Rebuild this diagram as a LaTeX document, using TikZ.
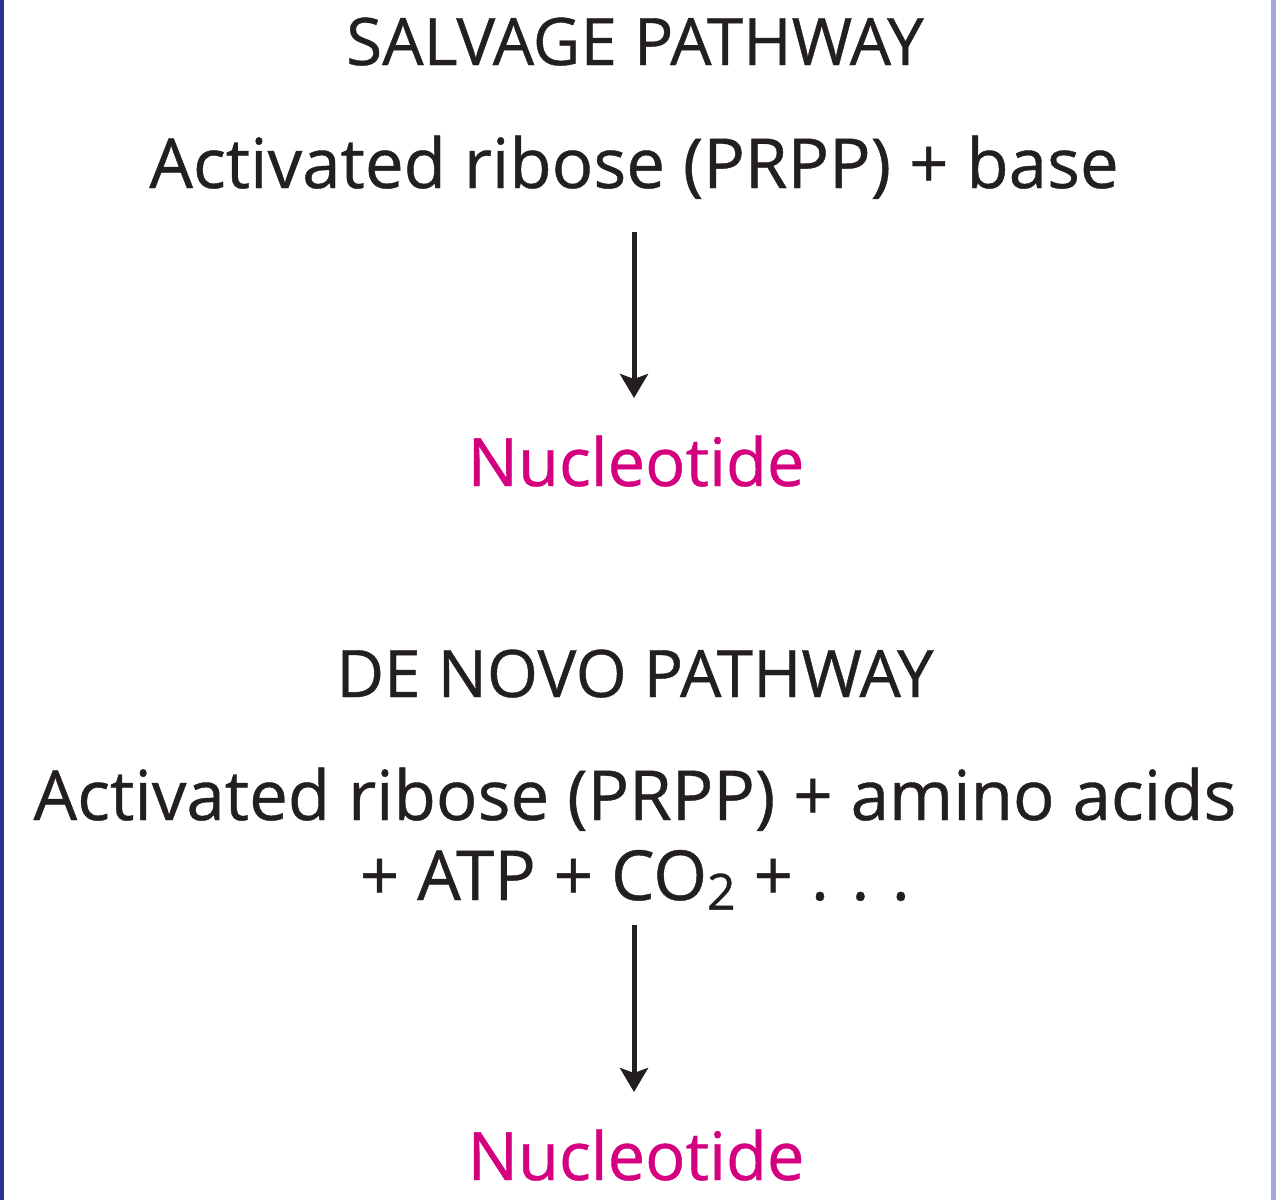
\documentclass[tikz,border=0pt]{standalone}
\usepackage{fontspec}
\setmainfont{Open Sans}[FakeBold=0.6]
\usetikzlibrary{arrows.meta}
\definecolor{txt}{HTML}{231F20}
\definecolor{mag}{HTML}{D5007F}
\definecolor{leftb}{HTML}{2E3192}
\definecolor{rightb}{HTML}{A5A5DD}
\tikzset{
  lbl/.style={anchor=base, inner sep=0pt, text=txt, font=\fontsize{69}{76}\selectfont},
  head/.style={lbl, font=\fontsize{65.5}{72}\selectfont},
  prod/.style={lbl, text=mag, font=\fontsize{66.8}{72}\selectfont},
  arr/.style={draw=txt, line width=5pt, -{Stealth[length=24pt,width=28pt,inset=5pt]}}
}
\begin{document}
\begin{tikzpicture}[x=1pt,y=1pt]
\useasboundingbox (0,0) rectangle (1276,-1200);
\fill[white] (0,0) rectangle (1276,-1200);
\fill[leftb] (0,0) rectangle (4,-1200);
\fill[rightb] (1271,0) rectangle (1276,-1200);
\node[head] (h1) at (635,-65) {SALVAGE PATHWAY};
\node[lbl] (s1) at (634,-188) {Activated ribose (PRPP) + base};
\node[prod] (n1) at (636,-486) {Nucleotide};
\node[head] (h2) at (635,-697) {DE NOVO PATHWAY};
\node[lbl] (d1) at (635,-820) {Activated ribose (PRPP) + amino acids};
\node[lbl] (d2) at (635,-900) {+ ATP + CO\raisebox{-0.26ex}{\fontsize{50}{50}\selectfont 2} + .\hspace{0.32em}.\hspace{0.32em}.};
\node[prod] (n2) at (636,-1180) {Nucleotide};
\draw[arr] ([yshift=-44pt]s1.base -| 634,0) -- ([yshift=88pt]n1.base -| 634,0);
\draw[arr] ([yshift=-25pt]d2.base -| 634,0) -- ([yshift=88pt]n2.base -| 634,0);
\end{tikzpicture}
\end{document}
